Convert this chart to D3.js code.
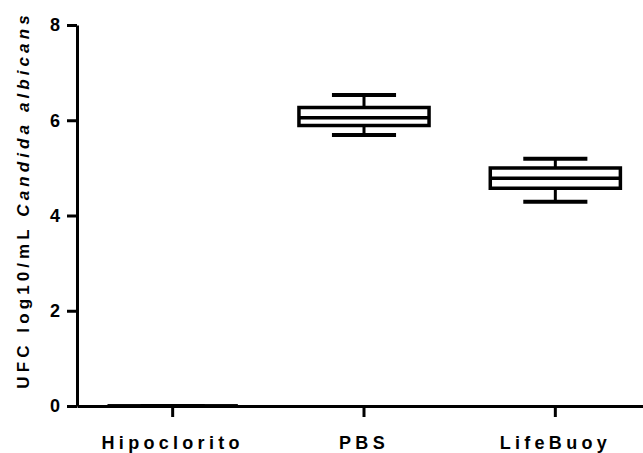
<!DOCTYPE html>
<html>
<head>
<meta charset="utf-8">
<script src="https://cdn.jsdelivr.net/npm/d3@7"></script>
<style>
  body { margin: 0; background: #fff; }
  svg text { font-family: "Liberation Sans", Arial, sans-serif; font-weight: bold; fill: #000; }
</style>
</head>
<body>
<script>
// data
var categories = ["Hipoclorito", "PBS", "LifeBuoy"];
var whiskerLow = [0, 5.69, 4.29];
var q1 = [0, 5.89, 4.57];
var medians = [0, 6.05, 4.78];
var q3 = [0, 6.27, 5.0];
var whiskerHigh = [0, 6.53, 5.19];
var yTicks = [0, 2, 4, 6, 8];

var w = 643, h = 453;
var plotLeft = 77, plotTop = 25, plotBottom = 406;

var svg = d3.select("body").append("svg")
  .attr("width", w)
  .attr("height", h);

var x = d3.scaleBand()
  .domain(categories)
  .range([plotLeft, 651])
  .padding(0);

var y = d3.scaleLinear()
  .domain([0, 8])
  .range([plotBottom, plotTop]);

// axes
var yAxis = svg.append("g")
  .attr("transform", "translate(" + plotLeft + ",0)")
  .call(d3.axisLeft(y).tickValues(yTicks).tickSize(10).tickSizeOuter(0).tickPadding(7));

var xAxis = svg.append("g")
  .attr("transform", "translate(0," + plotBottom + ")")
  .call(d3.axisBottom(x).tickSize(11).tickSizeOuter(0).tickPadding(19));

[yAxis, xAxis].forEach(function(g) {
  g.select(".domain").attr("stroke", "#000").attr("stroke-width", 3);
  g.selectAll(".tick line").attr("stroke", "#000").attr("stroke-width", 3);
});
yAxis.selectAll(".tick text").style("font-size", "18px");
xAxis.selectAll(".tick text")
  .style("font-size", "18px")
  .style("letter-spacing", "4.3px");

// boxes
var boxW = x.bandwidth() * 0.68;
var capW = x.bandwidth() * 0.335;

var data = categories.map(function(c, i) {
  return { cat: c, lo: whiskerLow[i], q1: q1[i], med: medians[i], q3: q3[i], hi: whiskerHigh[i] };
});

var boxes = svg.append("g").selectAll("g")
  .data(data)
  .enter()
  .append("g")
  .attr("fill", "none")
  .attr("stroke", "#000")
  .attr("stroke-width", 3.5);

boxes.each(function(d) {
  var g = d3.select(this);
  var cx = x(d.cat) + x.bandwidth() / 2;
  // whiskers
  g.append("path").attr("stroke-width", 3)
    .attr("d", "M" + cx + "," + y(d.hi) + "V" + y(d.q3) + "M" + cx + "," + y(d.q1) + "V" + y(d.lo));
  g.append("path").attr("stroke-width", 4)
    .attr("d", "M" + (cx - capW / 2) + "," + y(d.hi) + "H" + (cx + capW / 2) +
      "M" + (cx - capW / 2) + "," + y(d.lo) + "H" + (cx + capW / 2));
  // box
  g.append("path")
    .attr("fill", d.q3 > d.q1 ? "#fff" : "none")
    .attr("d", "M" + (cx - boxW / 2) + "," + y(d.q3) + "H" + (cx + boxW / 2) +
      "V" + y(d.q1) + "H" + (cx - boxW / 2) + "Z");
  // median
  g.append("path")
    .attr("d", "M" + (cx - boxW / 2) + "," + y(d.med) + "H" + (cx + boxW / 2));
});

// y label
var lab = svg.append("text")
  .attr("transform", "translate(29,200) rotate(-90)")
  .attr("text-anchor", "middle")
  .style("font-size", "17px")
  .style("letter-spacing", "4.1px");
lab.append("tspan").text("UFC log10/mL ");
lab.append("tspan").style("font-style", "italic").text("Candida albicans");
</script>
</body>
</html>
